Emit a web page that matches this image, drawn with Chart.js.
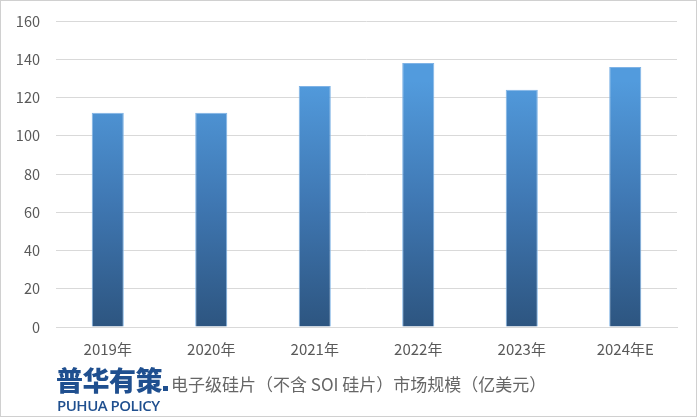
<!DOCTYPE html>
<html>
<head>
<meta charset="utf-8">
<script src="https://cdn.jsdelivr.net/npm/chart.js@4"></script>
<style>
  html, body { margin: 0; padding: 0; background: #fff; }
  #wrap { position: relative; width: 699px; height: 419px; }
  #frame { position: absolute; left: 0; top: 0; width: 695px; height: 415px; border: 1px solid #d0d0d0; }
  #chart { position: absolute; left: 0; top: 0; }
  .logo { position: absolute; left: 56px; top: 365px; font-family: "Noto Sans CJK SC", sans-serif; font-weight: 900; font-size: 27px; color: #1f4f8f; letter-spacing: -0.5px; line-height: 30px; }
  .logo i { display: inline-block; width: 5px; height: 5px; background: #1f4f8f; margin-left: 1px; }
  .en { position: absolute; left: 57px; top: 396px; font-family: "Open Sans", sans-serif; font-weight: 600; font-size: 15px; color: #1f4f8f; line-height: 18px; letter-spacing: -0.5px; }
  .sub { position: absolute; left: 171px; top: 373px; font-family: "Noto Sans CJK SC", sans-serif; font-size: 17px; color: #666; line-height: 22px; }
</style>
</head>
<body>
<div id="wrap">
  <canvas id="chart" width="699" height="419"></canvas>
  <div id="frame"></div>
  <div class="logo">普华有策<i></i></div>
  <div class="sub">电子级硅片（不含 SOI 硅片）市场规模（亿美元）</div>
  <div class="en">PUHUA POLICY</div>
</div>
<script>
const years = ["2019年", "2020年", "2021年", "2022年", "2023年", "2024年E"];
const marketSize = [112, 112, 126, 138, 124, 136];
const yTicks = [0, 20, 40, 60, 80, 100, 120, 140, 160];

const ctx = document.getElementById("chart").getContext("2d");

// dark navy at the base fading up to light blue
function barGradient(context) {
  const area = context.chart.chartArea;
  if (!area) return "#4a8fd0";
  const g = context.chart.ctx.createLinearGradient(0, area.bottom, 0, area.top + 60);
  g.addColorStop(0, "#2d5580");
  g.addColorStop(0.5, "#3f77b2");
  g.addColorStop(1, "#529bdd");
  return g;
}

new Chart(ctx, {
  type: "bar",
  data: {
    labels: years,
    datasets: [
      {
        data: marketSize,
        backgroundColor: barGradient,
        borderColor: "#7fb3e6",
        borderWidth: 1,
        categoryPercentage: 1,
        barPercentage: 0.31
      }
    ]
  },
  options: {
    responsive: false,
    animation: false,
    layout: { padding: { top: 21, right: 22, left: 0, bottom: 0 } },
    plugins: { legend: { display: false }, tooltip: { enabled: false } },
    scales: {
      x: {
        grid: { display: false, drawTicks: false },
        border: { color: "#d9d9d9" },
        ticks: { color: "#595959", padding: 13, font: { family: "'Noto Sans CJK SC', sans-serif", size: 15 } },
        afterFit: (scale) => { scale.height = 92; scale.paddingLeft = 0; scale.paddingRight = 0; }
      },
      y: {
        min: 0,
        max: 160,
        afterBuildTicks: (scale) => { scale.ticks = yTicks.map((v) => ({ value: v })); },
        grid: { color: "#d9d9d9", drawTicks: false },
        border: { display: false },
        ticks: { color: "#595959", padding: 16, font: { family: "'Noto Sans CJK SC', sans-serif", size: 14.5 } },
        afterFit: (scale) => { scale.width = 56; scale.paddingTop = 0; scale.paddingBottom = 0; }
      }
    }
  }
});
</script>
</body>
</html>
